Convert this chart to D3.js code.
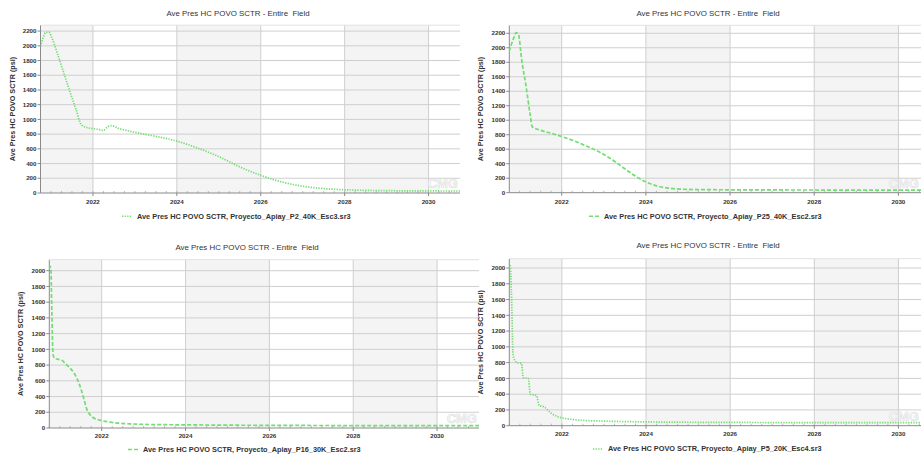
<!DOCTYPE html>
<meta charset="utf-8">
<style>
  body { margin: 0; background: #fff; }
  text { font-family: Arial, "Liberation Sans", sans-serif; }
</style>
<svg width="921" height="457"></svg>
<script src="https://d3js.org/d3.v7.min.js"></script>
<script>
    var chartTitle = "Ave Pres HC POVO SCTR - Entire  Field";
    var yLabel = "Ave Pres HC POVO SCTR (psi)";
    var yearTicks = [2022, 2024, 2026, 2028, 2030];
    var presStep = 200;

    // P2_40K_Esc3
    var p2Year = [2020.75, 2020.82, 2020.87, 2020.95, 2021.02, 2021.15, 2021.3, 2021.45, 2021.6, 2021.72, 2021.85, 2022.0, 2022.15, 2022.25, 2022.35, 2022.45, 2022.6, 2022.8, 2023.0, 2023.5, 2024.0, 2024.5, 2025.0, 2025.5, 2026.0, 2026.5, 2027.0, 2027.5, 2028.0, 2028.5, 2029.0, 2030.0, 2030.75];
    var p2Pres = [1990, 2120, 2180, 2185, 2110, 1900, 1640, 1380, 1130, 930, 890, 875, 860, 850, 900, 915, 880, 850, 825, 770, 705, 610, 495, 355, 240, 150, 92, 60, 44, 36, 32, 28, 27];

    // P25_40K_Esc2
    var p25Year = [2020.75, 2020.85, 2020.92, 2020.97, 2021.05, 2021.15, 2021.25, 2021.3, 2021.5, 2021.75, 2022.0, 2022.3, 2022.6, 2022.9, 2023.2, 2023.5, 2023.75, 2024.0, 2024.25, 2024.5, 2024.8, 2025.2, 2026, 2027, 2028, 2029, 2030, 2031];
    var p25Pres = [1950, 2120, 2210, 2190, 1830, 1480, 1080, 910, 860, 820, 775, 715, 640, 560, 455, 330, 230, 150, 95, 66, 50, 43, 40, 38, 37, 36, 35, 35];

    // P16_30K_Esc2
    var p16Year = [2020.74, 2020.77, 2020.79, 2020.81, 2020.84, 2020.88, 2020.95, 2021.05, 2021.15, 2021.25, 2021.35, 2021.45, 2021.52, 2021.58, 2021.65, 2021.72, 2021.8, 2021.9, 2022.0, 2022.2, 2022.4, 2022.7, 2023.0, 2023.5, 2024.0, 2025, 2026, 2027, 2028, 2029, 2030, 2031];
    var p16Pres = [2030, 2055, 2000, 1480, 930, 885, 875, 860, 810, 760, 690, 580, 470, 360, 230, 170, 130, 108, 93, 75, 62, 52, 46, 42, 40, 36, 34, 32, 31, 30, 30, 30];

    // P5_20K_Esc4
    var p5Year = [2020.74, 2020.77, 2020.8, 2020.84, 2020.88, 2020.94, 2021.04, 2021.08, 2021.2, 2021.25, 2021.4, 2021.46, 2021.58, 2021.65, 2021.72, 2021.8, 2021.9, 2022.0, 2022.2, 2022.5, 2023.0, 2023.5, 2024.0, 2025, 2026, 2027, 2028, 2029, 2030, 2031];
    var p5Pres = [2000, 2030, 1700, 900, 830, 800, 790, 610, 600, 400, 380, 255, 240, 205, 170, 140, 115, 100, 82, 68, 58, 52, 48, 44, 42, 40, 39, 38, 38, 38];

    var seriesNames = [
        "Ave Pres HC POVO SCTR, Proyecto_Apiay_P2_40K_Esc3.sr3",
        "Ave Pres HC POVO SCTR, Proyecto_Apiay_P25_40K_Esc2.sr3",
        "Ave Pres HC POVO SCTR, Proyecto_Apiay_P16_30K_Esc2.sr3",
        "Ave Pres HC POVO SCTR, Proyecto_Apiay_P5_20K_Esc4.sr3"
    ];

    var green = "#72dd72";
    var dotted = "1.3,1.3", dashed = "4,2";

    var panels = [
        { years: p2Year, pres: p2Pres, name: seriesNames[0], dash: dotted,
          l: 40.5, r: 460, t: 25.2, b: 193, x0: 2020.75, x1: 2030.75, yMax: 2280,
          titleX: 238, titleY: 15.5, tickY: 203.5, legX: 122, legY: 218.5, ylabX: 12.5 },
        { years: p25Year, pres: p25Pres, name: seriesNames[1], dash: dashed,
          l: 509.3, r: 930, t: 25.3, b: 192.7, x0: 2020.755, x1: 2030.75, yMax: 2310,
          titleX: 708, titleY: 15.5, tickY: 203.8, legX: 589, legY: 218.5, ylabX: 480.7 },
        { years: p16Year, pres: p16Pres, name: seriesNames[2], dash: dashed,
          l: 49.3, r: 479, t: 259.7, b: 428, x0: 2020.75, x1: 2031, yMax: 2140,
          titleX: 247, titleY: 249.5, tickY: 437.8, legX: 128, legY: 451.8, ylabX: 20 },
        { years: p5Year, pres: p5Pres, name: seriesNames[3], dash: dotted,
          l: 509.3, r: 930, t: 258.7, b: 425.7, x0: 2020.75, x1: 2030.75, yMax: 2118,
          titleX: 708, titleY: 247.5, tickY: 435.8, legX: 593, legY: 451.2, ylabX: 480.7 }
    ];

    var svg = d3.select("svg");

    panels.forEach(function(p, i) {
        var x = d3.scaleLinear().domain([p.x0, p.x1]).range([p.l, p.r]);
        var y = d3.scaleLinear().domain([0, p.yMax]).range([p.b, p.t]);
        var g = svg.append("g");

        g.append("clipPath").attr("id", "clip" + i)
            .append("rect").attr("x", p.l).attr("y", p.t - 2)
            .attr("width", p.r - p.l).attr("height", p.b - p.t + 4);

        // plot background + alternating bands
        g.append("rect").attr("x", p.l).attr("y", p.t)
            .attr("width", p.r - p.l).attr("height", p.b - p.t)
            .attr("fill", "#fff");
        var edges = [p.x0].concat(yearTicks).concat([p.x1]);
        var bands = [];
        for (var k = 0; k < edges.length - 1; k += 2) bands.push([edges[k], Math.min(edges[k + 1], p.x1)]);
        g.selectAll(".band").data(bands).enter().append("rect")
            .attr("x", function(d) { return x(d[0]); })
            .attr("y", p.t)
            .attr("width", function(d) { return x(d[1]) - x(d[0]); })
            .attr("height", p.b - p.t)
            .attr("fill", "#f4f4f4");

        var yTicks = d3.range(0, p.yMax + 1, presStep);

        // grid
        g.selectAll(".hg").data(yTicks.slice(1)).enter().append("line")
            .attr("x1", p.l).attr("x2", p.r)
            .attr("y1", function(d) { return y(d); }).attr("y2", function(d) { return y(d); })
            .attr("stroke", "#cfcfcf").attr("stroke-width", 1);
        g.selectAll(".vg").data(yearTicks).enter().append("line")
            .attr("x1", function(d) { return x(d); }).attr("x2", function(d) { return x(d); })
            .attr("y1", p.t).attr("y2", p.b)
            .attr("stroke", "#cfcfcf").attr("stroke-width", 1);

        // minor ticks along bottom
        g.selectAll(".mt").data(d3.range(Math.ceil(p.x0 * 4) / 4, p.x1, 0.25)).enter().append("line")
            .attr("x1", function(d) { return x(d); }).attr("x2", function(d) { return x(d); })
            .attr("y1", p.b).attr("y2", p.b - 2)
            .attr("stroke", "#bbb");

        // watermark
        g.append("text").attr("x", Math.min(p.r, 921) - 2).attr("y", p.b - 5)
            .attr("text-anchor", "end").attr("font-size", 13).attr("font-weight", "bold")
            .attr("fill", "#f8f8f8").attr("stroke", "#e0e0e0").attr("stroke-width", 0.6)
            .text("CMG");

        // axes
        g.append("line").attr("x1", p.l).attr("x2", p.l).attr("y1", p.t).attr("y2", p.b)
            .attr("stroke", "#8a8a8a");
        g.append("line").attr("x1", p.l).attr("x2", p.r).attr("y1", p.b).attr("y2", p.b)
            .attr("stroke", "#8a8a8a");
        g.append("line").attr("x1", p.l).attr("x2", p.r).attr("y1", p.t).attr("y2", p.t)
            .attr("stroke", "#e2e2e2");

        g.selectAll(".yt").data(yTicks).enter().append("line")
            .attr("x1", p.l - 3).attr("x2", p.l)
            .attr("y1", function(d) { return y(d); }).attr("y2", function(d) { return y(d); })
            .attr("stroke", "#8a8a8a");
        g.selectAll(".yl").data(yTicks).enter().append("text")
            .attr("x", p.l - 4).attr("y", function(d) { return y(d) + 2.2; })
            .attr("text-anchor", "end").attr("font-size", 6.2).attr("font-weight", "bold")
            .attr("fill", "#333").text(function(d) { return d; });
        g.selectAll(".xt").data(yearTicks).enter().append("line")
            .attr("x1", function(d) { return x(d); }).attr("x2", function(d) { return x(d); })
            .attr("y1", p.b).attr("y2", p.b + 3)
            .attr("stroke", "#8a8a8a");
        g.selectAll(".xl").data(yearTicks).enter().append("text")
            .attr("x", function(d) { return x(d); }).attr("y", p.tickY)
            .attr("text-anchor", "middle").attr("font-size", 6.2).attr("font-weight", "bold")
            .attr("fill", "#333").text(function(d) { return d; });

        // titles
        g.append("text").attr("x", p.titleX).attr("y", p.titleY)
            .attr("text-anchor", "middle").attr("font-size", 7.9).attr("fill", "#333")
            .style("white-space", "pre").text(chartTitle);
        g.append("text")
            .attr("transform", "translate(" + (p.ylabX + 2.5) + "," + ((p.t + p.b) / 2) + ") rotate(-90)")
            .attr("text-anchor", "middle").attr("font-size", 7.2).attr("font-weight", "bold")
            .attr("fill", "#333").text(yLabel);

        // series
        var pts = p.years.map(function(yr, j) { return [yr, p.pres[j]]; });
        var line = d3.line()
            .curve(d3.curveMonotoneX)
            .x(function(d) { return x(d[0]); })
            .y(function(d) { return y(d[1]); });
        g.append("path").datum(pts)
            .attr("clip-path", "url(#clip" + i + ")")
            .attr("d", line)
            .attr("fill", "none").attr("stroke", green)
            .attr("stroke-width", 1.7).attr("stroke-dasharray", p.dash);

        // legend
        g.append("line").attr("x1", p.legX).attr("x2", p.legX + 10)
            .attr("y1", p.legY - 2.3).attr("y2", p.legY - 2.3)
            .attr("stroke", green).attr("stroke-width", 1.5).attr("stroke-dasharray", p.dash);
        g.append("text").attr("x", p.legX + 15).attr("y", p.legY)
            .attr("font-size", 7.35).attr("font-weight", "bold").attr("fill", "#333")
            .text(p.name);
    });
</script>
